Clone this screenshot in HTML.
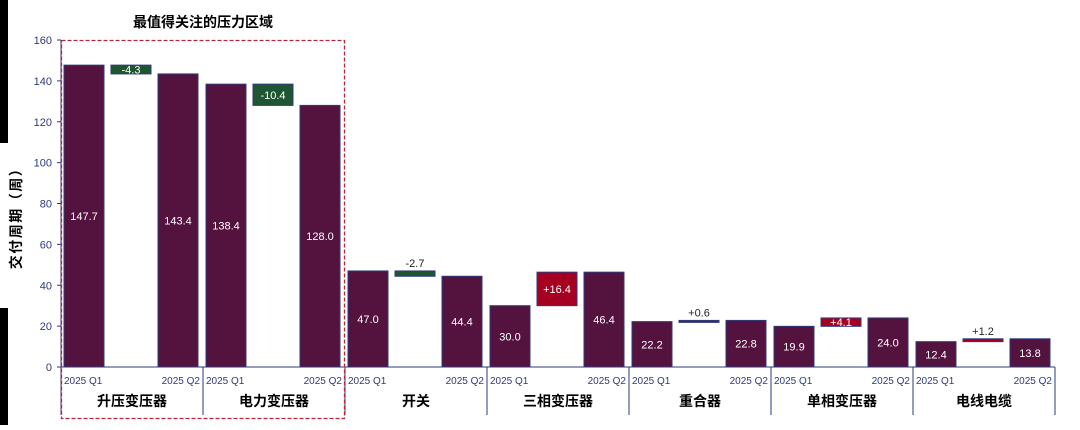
<!DOCTYPE html>
<html><head><meta charset="utf-8"><style>
body{margin:0;background:#fff;width:1080px;height:425px;overflow:hidden;font-family:"Liberation Sans","Noto Sans CJK SC",sans-serif}
</style></head><body>
<svg id="c" width="1080" height="425" xmlns="http://www.w3.org/2000/svg">
<rect x="0" y="0" width="8" height="143" fill="#000"/>
<rect x="0" y="308" width="8" height="117" fill="#000"/>
<text x="203" y="27" text-anchor="middle" font-size="14" font-weight="bold" fill="#000">最值得关注的压力区域</text>
<text transform="translate(21,215) rotate(-90)" text-anchor="middle" font-size="14" font-weight="bold" letter-spacing="1.5" fill="#000">交付周期（周）</text>
<g id="g"></g>
</svg>
<script>
const categories=["升压变压器","电力变压器","开关","三相变压器","重合器","单相变压器","电线电缆"];
const q1Values=[147.7,138.4,47.0,30.0,22.2,19.9,12.4];
const q2Values=[143.4,128.0,44.4,46.4,22.8,24.0,13.8];
const deltaValues=[-4.3,-10.4,-2.7,16.4,0.6,4.1,1.2];
const yTicks=[0,20,40,60,80,100,120,140,160];
const periodLabels=["2025 Q1","2025 Q2"];
const NS="http://www.w3.org/2000/svg";
const g=document.getElementById('g');
const X0=61,GW=142,Y0=367,YT=40,YMAX=160;
const y=v=>Y0-(v/YMAX)*(Y0-YT);
const gx=i=>X0+i*GW;
function el(t,a,txt){const e=document.createElementNS(NS,t);for(const k in a)e.setAttribute(k,a[k]);if(txt!==undefined)e.textContent=txt;g.appendChild(e);return e;}
yTicks.forEach(t=>{
 const tk=el('line',{x1:57,x2:61,y1:y(t),y2:y(t),stroke:'#2e3a7a'});
 
 
 const lb=el('text',{x:52,y:y(t)+4,'text-anchor':'end','font-size':11,fill:'#2e3a7a'},t);
 
 
});
const ax=el('line',{x1:61,x2:61,y1:YT,y2:Y0,stroke:'#2e3a7a'});


const xa=el('line',{x1:61,x2:X0+7*GW,y1:Y0,y2:Y0,stroke:'#2e3a7a'});


const BW=40;
categories.forEach((c,i)=>{
 const b=gx(i);
 const xs=[b+3,b+50,b+97];
 [q1Values[i],q2Values[i]].forEach((v,k)=>{
  const r=el('rect',{x:xs[k*2],y:y(v),width:BW,height:Y0-y(v),fill:'#54133e',stroke:'#2e3a7a','stroke-width':1});
  
  
  const t=el('text',{x:xs[k*2]+BW/2,y:(y(v)+Y0)/2+4,'text-anchor':'middle','font-size':11,fill:'#fff'},v.toFixed(1));
  
  
  const pl=el('text',{x:k?b+139:b+3,y:384,'text-anchor':k?'end':'start','font-size':10,fill:'#2e3a7a'},periodLabels[k]);
  
  
 });
 const d=deltaValues[i];
 const top=y(Math.max(q1Values[i],q2Values[i])),bot=y(Math.min(q1Values[i],q2Values[i]));
 const h=Math.max(bot-top,2);
 const dr=el('rect',{x:xs[1],y:top,width:BW,height:h,fill:d<0?'#1e5631':'#a50021',stroke:'#2e3a7a','stroke-width':1});
 
 
 const lab=(d>0?'+':'')+d.toFixed(1);
 const inside=Math.abs(d)>=3;
 const dt=el('text',{x:xs[1]+BW/2,y:inside?top+h/2+4:top-4,'text-anchor':'middle','font-size':11,fill:inside?'#fff':'#222'},lab);
 
 
 const cl=el('text',{x:b+GW/2,y:406,'text-anchor':'middle','font-size':14,'font-weight':'bold',fill:'#000'},c);
 
 
 const dv=el('line',{x1:b+GW,x2:b+GW,y1:Y0,y2:415,stroke:'#2e3a7a'});
 
 
});
const l0=el('line',{x1:61,x2:61,y1:Y0,y2:415,stroke:'#2e3a7a'});


const hb=el('rect',{x:61.5,y:40.5,width:283,height:378,fill:'none',stroke:'#b22a3a','stroke-width':1.3,'stroke-dasharray':'4,2'});


</script>
</body></html>
